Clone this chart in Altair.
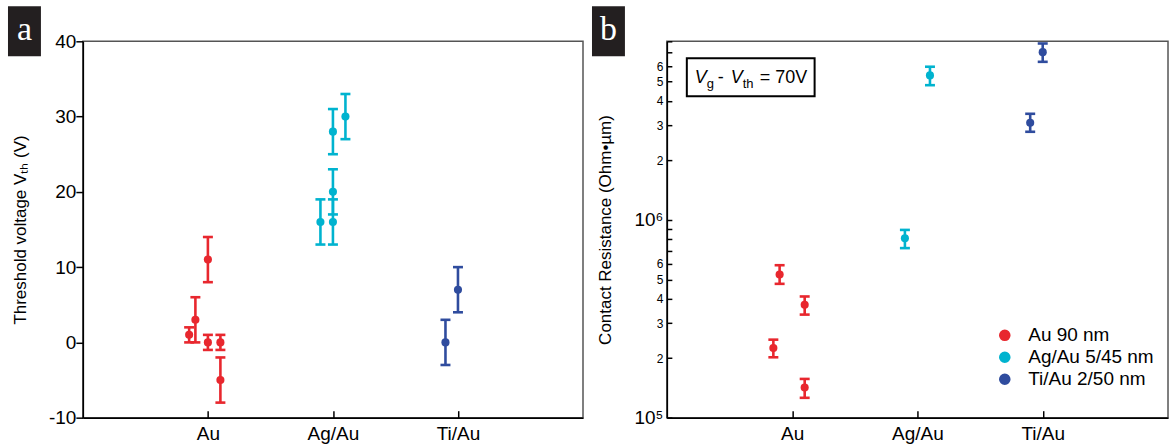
import altair as alt
import pandas as pd

# ---------------- data ----------------
categories = ["Au", "Ag/Au", "Ti/Au"]
series_names = ["Au 90 nm", "Ag/Au 5/45 nm", "Ti/Au 2/50 nm"]
colors = ["#E8272E", "#00B3CF", "#2F4C9E"]

# panel a: threshold voltage
a_cat = ["Au", "Au", "Au", "Au", "Au", "Au", "Ag/Au", "Ag/Au", "Ag/Au", "Ag/Au", "Ag/Au", "Ti/Au", "Ti/Au"]
a_jitter = [-0.15, -0.1, 0.0, 0.0, 0.1, 0.1, -0.1, 0.0, 0.0, 0.0, 0.1, -0.1, 0.0]
a_vth = [1, 3, 11, 0, 0, -5, 16, 16, 20, 28, 30, 0, 7]
a_err = [1, 3, 3, 1, 1, 3, 3, 3, 3, 3, 3, 3, 3]

# panel b: contact resistance
b_cat = ["Au", "Au", "Au", "Au", "Ag/Au", "Ag/Au", "Ti/Au", "Ti/Au"]
b_jitter = [-0.1, 0.1, -0.15, 0.1, -0.1, 0.1, -0.1, 0.0]
b_rc = [5.3e5, 3.72e5, 2.25e5, 1.42e5, 8.07e5, 5.38e6, 3.1e6, 7.05e6]
b_lo = [4.75e5, 3.32e5, 2.02e5, 1.26e5, 7.2e5, 4.8e6, 2.79e6, 6.3e6]
b_hi = [5.9e5, 4.1e5, 2.48e5, 1.57e5, 8.9e5, 5.95e6, 3.44e6, 7.8e6]

a_ticks = [-10, 0, 10, 20, 30, 40]
b_ticks = [1e5, 2e5, 3e5, 4e5, 5e5, 6e5, 7e5, 8e5, 9e5,
           1e6, 2e6, 3e6, 4e6, 5e6, 6e6, 7e6, 8e6]
b_tick_labels = ["10⁵", "2", "3", "4", "5", "6", "", "", "",
                 "10⁶", "2", "3", "4", "5", "6", "", ""]

# ---------------- tables ----------------
def pos_of(cat, j):
    return categories.index(cat) + 1 + j

dfa = pd.DataFrame({
    "pos": [pos_of(c, j) for c, j in zip(a_cat, a_jitter)],
    "series": [series_names[categories.index(c)] for c in a_cat],
    "v": a_vth,
    "lo": [v - e for v, e in zip(a_vth, a_err)],
    "hi": [v + e for v, e in zip(a_vth, a_err)],
})
dfb = pd.DataFrame({
    "pos": [pos_of(c, j) for c, j in zip(b_cat, b_jitter)],
    "series": [series_names[categories.index(c)] for c in b_cat],
    "v": b_rc,
    "lo": b_lo,
    "hi": b_hi,
})

FONT = "Liberation Sans"
W_A, W_B, H = 501, 502, 377

cat_expr = "".join(f"datum.value == {i + 1} ? '{c}' : " for i, c in enumerate(categories)) + "''"
b_expr = "".join(f"datum.value == {int(v)} ? '{l}' : " for v, l in zip(b_ticks, b_tick_labels)) + "''"

def x_enc():
    return alt.X("pos:Q",
                 scale=alt.Scale(domain=[0, 4], nice=False, zero=False),
                 axis=alt.Axis(values=[1, 2, 3], labelExpr=cat_expr, title=None, grid=False,
                               tickSize={"expr": "-7"}, labelPadding=14, labelFontSize=19))

def color_enc(legend):
    return alt.Color("series:N", scale=alt.Scale(domain=series_names, range=colors), legend=legend)

def panel(df, yscale, yaxis, legend):
    bars = alt.Chart(df).mark_rule(strokeWidth=2.6, opacity=1).encode(
        x=x_enc(), y=alt.Y("lo:Q", scale=yscale, axis=yaxis), y2="hi:Q", color=color_enc(None))
    cap_lo = alt.Chart(df).mark_tick(orient="horizontal", size=10, thickness=2.6, opacity=1).encode(
        x=x_enc(), y=alt.Y("lo:Q", scale=yscale, axis=yaxis), color=color_enc(None))
    cap_hi = alt.Chart(df).mark_tick(orient="horizontal", size=10, thickness=2.6, opacity=1).encode(
        x=x_enc(), y=alt.Y("hi:Q", scale=yscale, axis=yaxis), color=color_enc(None))
    pts = alt.Chart(df).mark_circle(size=66, opacity=1).encode(
        x=x_enc(), y=alt.Y("v:Q", scale=yscale, axis=yaxis), color=color_enc(legend))
    return [bars, cap_lo, cap_hi, pts]

def label_box(letter):
    box = alt.Chart(pd.DataFrame({"t": [letter]})).mark_rect(color="#231F20").encode(
        x=alt.value(-75), x2=alt.value(-42), y=alt.value(-35), y2=alt.value(15))
    txt = alt.Chart(pd.DataFrame({"t": [letter]})).mark_text(
        font="Liberation Serif", fontSize=34, color="white", align="center", baseline="middle").encode(
        x=alt.value(-58.5), y=alt.value(-11), text="t:N")
    return [box, txt]

# ---------- panel a ----------
ya_scale = alt.Scale(domain=[-10, 40], nice=False, zero=False)
ya_axis = alt.Axis(values=a_ticks, labelExpr="'' + datum.value", title="Threshold voltage Vₜₕ (V)", grid=False,
                   tickSize=7, labelPadding=0, labelFontSize=19,
                   titleX=-62, titleBaseline="middle", titleFontSize=17)
panel_a = alt.layer(*panel(dfa, ya_scale, ya_axis, None), *label_box("a")).resolve_scale(
    color="independent").properties(width=W_A, height=H)

# ---------- panel b ----------
yb_scale = alt.Scale(type="log", domain=[1e5, 8e6], nice=False)
yb_axis = alt.Axis(values=b_ticks, labelExpr=b_expr, title="Contact Resistance (Ohm•µm)", grid=False,
                   tickSize={"expr": "-5"}, labelPadding=9,
                   labelFontSize={"condition": {"test": "datum.value == 100000 || datum.value == 1000000",
                                                "value": 19}, "value": 12},
                   titleX=-61, titleBaseline="middle", titleFontSize=17)
legend_b = alt.Legend(orient="none", legendX=329, legendY=285, title=None, labelFontSize=19,
                      labelFont=FONT, symbolSize=135, symbolType="circle", symbolStrokeWidth=0,
                      rowPadding=2, labelOffset=14, labelColor="black", symbolOpacity=1)

ann_data = pd.DataFrame({"t": ["x"]})
ann_box = alt.Chart(ann_data).mark_rect(fill="white", stroke="black", strokeWidth=2).encode(
    x=alt.value(20), x2=alt.value(148), y=alt.value(17), y2=alt.value(55))

def ann_text(s, x, y, size, italic=False):
    return alt.Chart(pd.DataFrame({"t": [s]})).mark_text(
        font=FONT, fontSize=size, fontStyle="italic" if italic else "normal", color="black",
        align="left", baseline="alphabetic").encode(x=alt.value(x), y=alt.value(y), text="t:N")

ann = [ann_box,
       ann_text("V", 28, 42, 18, True),
       ann_text("g", 40, 47, 13),
       ann_text("-", 51, 42, 18),
       ann_text("V", 64, 42, 18, True),
       ann_text("th", 76, 47, 13),
       ann_text("= 70V", 93, 42, 18)]

panel_b = alt.layer(*panel(dfb, yb_scale, yb_axis, legend_b), *ann, *label_box("b")).resolve_scale(
    color="independent").properties(width=W_B, height=H)

chart = alt.hconcat(panel_a, panel_b, spacing=84, bounds="flush").resolve_scale(
    color="independent", y="independent", x="independent").resolve_legend(color="independent").properties(
    padding={"left": 7, "top": 5, "right": 3, "bottom": 0}, background="white"
).configure_view(stroke="#555555", strokeWidth=1.5).configure_axis(
    labelFont=FONT, titleFont=FONT, labelColor="black", titleColor="black", titleFontWeight="normal",
    domainColor="black", tickColor="black", domainWidth=1.5, tickWidth=1.5
)

chart.save("out.html", embed_options={"renderer": "svg", "actions": False})
